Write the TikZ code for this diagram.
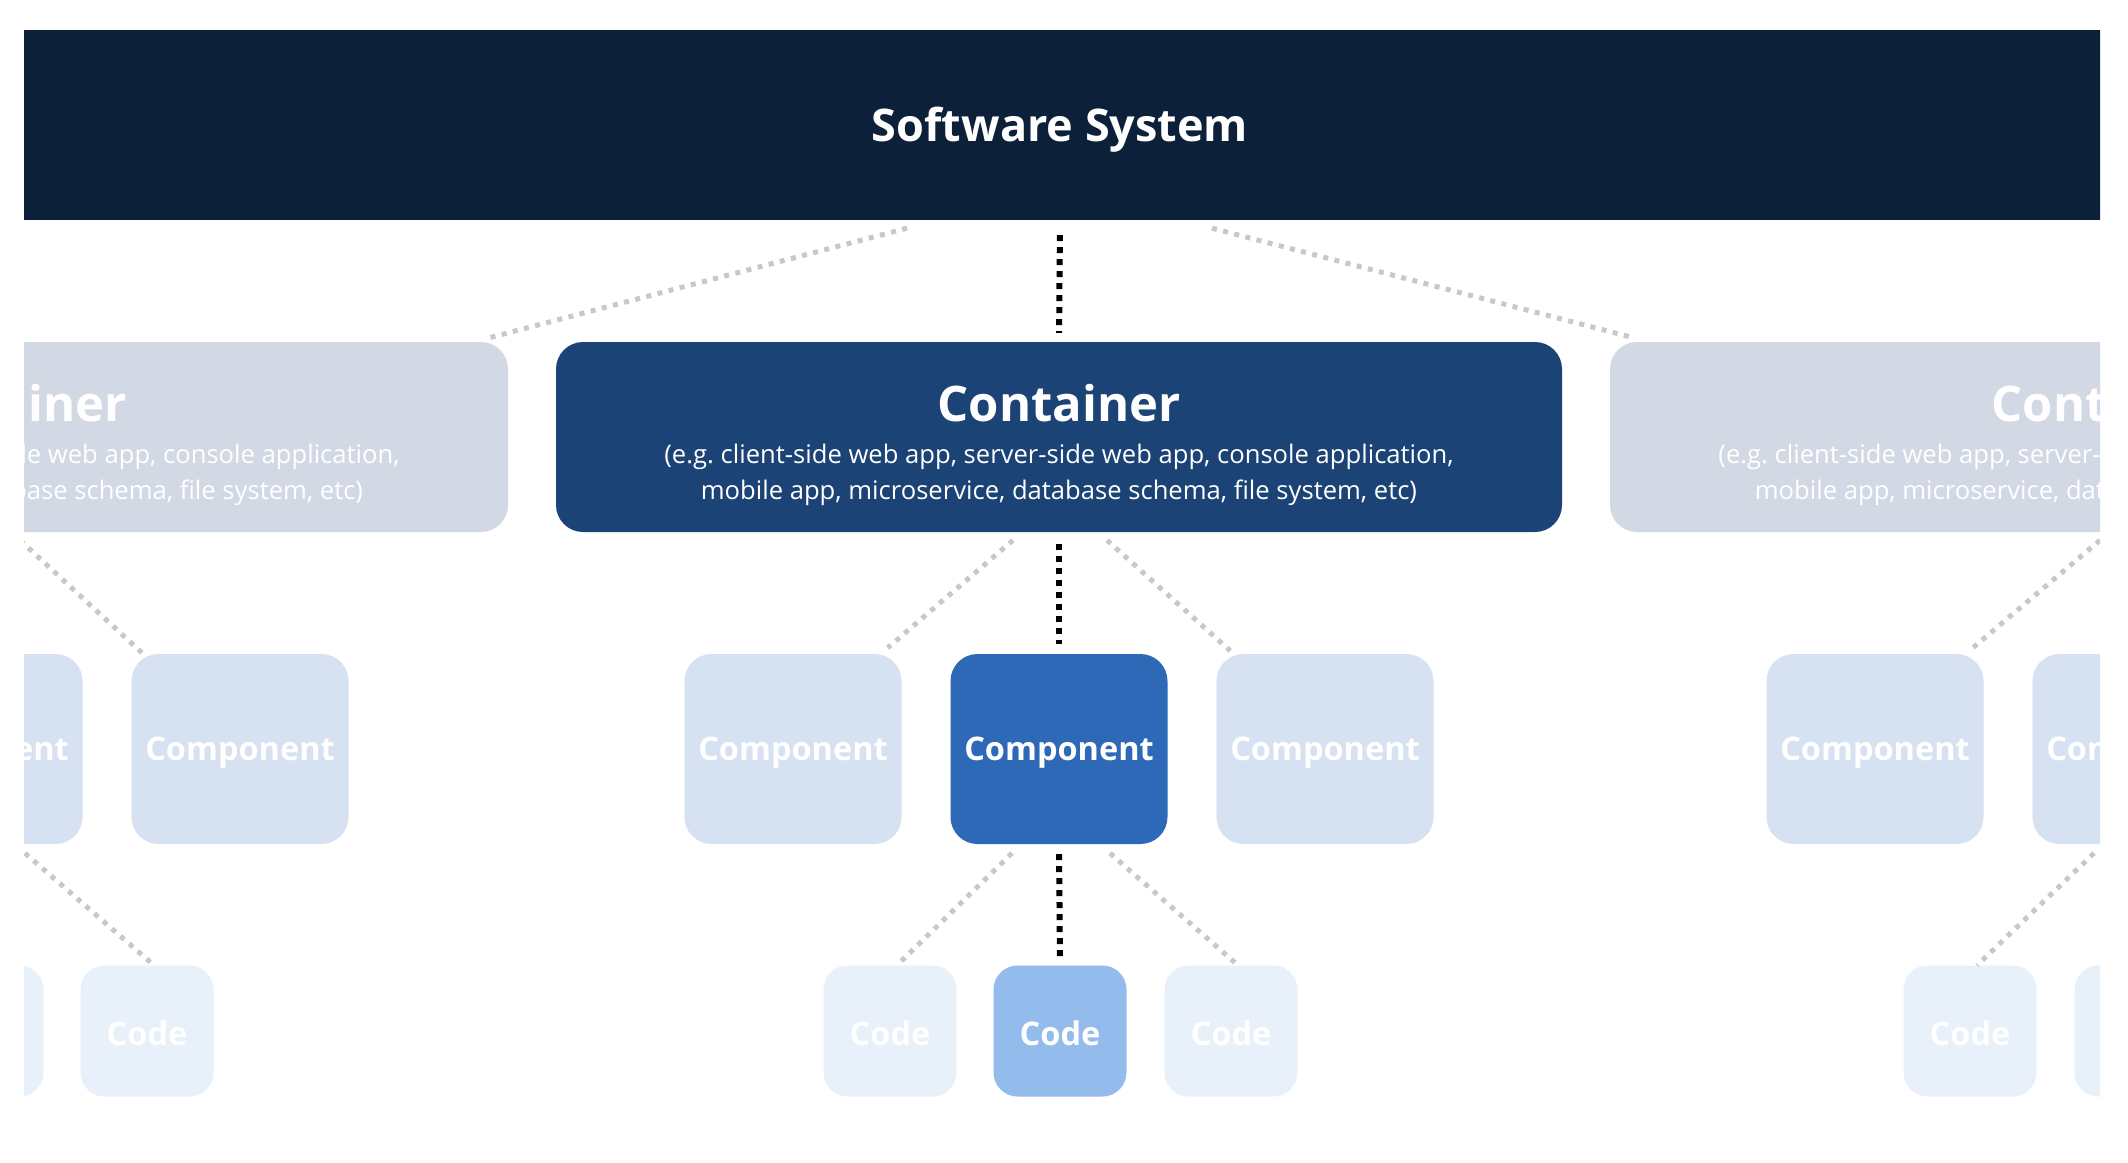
\documentclass[tikz,border=0pt]{standalone}
\usepackage{fontspec}
\setmainfont{Open Sans}
\frenchspacing
\definecolor{ssC}{RGB}{12,32,57}
\definecolor{ctC}{RGB}{28,67,118}
\definecolor{ctL}{RGB}{211,217,228}
\definecolor{cpC}{RGB}{45,105,182}
\definecolor{cpL}{RGB}{214,225,241}
\definecolor{cdC}{RGB}{147,187,235}
\definecolor{cdL}{RGB}{232,240,250}
\definecolor{dotG}{RGB}{200,200,200}
\tikzset{
 contbox/.style={rounded corners=27pt, minimum width=1006pt, minimum height=190pt, inner sep=0pt},
 compbox/.style={rounded corners=27pt, minimum width=217pt, minimum height=190pt, inner sep=0pt, text=white, text height=23pt, text depth=0pt, font=\fontsize{32.5}{39}\selectfont\bfseries},
 codebox/.style={rounded corners=24pt, minimum width=133pt, minimum height=131pt, inner sep=0pt, text=white, text height=28pt, text depth=0pt, font=\fontsize{32.5}{39}\selectfont\bfseries},
 titletext/.style={text=white, inner sep=0pt, font=\fontsize{49}{58}\selectfont\bfseries},
 desctext/.style={text=white, inner sep=0pt, align=center, font=\fontsize{25.6}{36}\selectfont\frenchspacing},
 greydots/.style={draw=dotG, line width=5pt, dash pattern=on 5pt off 6.5pt},
 blackdots/.style={draw=black, line width=6pt, dash pattern=on 6pt off 6pt},
}
\newcommand{\desctxt}{(e.g.\ client-side web app, server-side web app, console application,\\mobile app, microservice, database schema, file system, etc)}
\begin{document}
\begin{tikzpicture}[x=1pt,y=-1pt]
\useasboundingbox (0,0) rectangle (2128,1162);
\fill[white] (0,0) rectangle (2128,1162);
\begin{scope}
\clip (24,0) rectangle (2100,1162);
% software system
\node[fill=ssC, minimum width=2160pt, minimum height=190pt, inner sep=0pt, text=white, text height=32pt, text depth=0pt, font=\fontsize{45}{54}\selectfont\bfseries] (ss) at (1060,125) {Software System};
% containers
\node[contbox, fill=ctL] (cL) at (5,437) {};
\node[contbox, fill=ctC] (cC) at (1059,437) {};
\node[contbox, fill=ctL] (cR) at (2113,437) {};
\foreach \n in {cL,cC,cR}{
  \node[titletext] (\n t) at ([yshift=34pt]\n.center) {Container};
  \node[desctext] (\n d) at ([yshift=-38pt]\n.center) {\desctxt};
}
% components
\node[compbox, fill=cpL] (mL1) at (-26,749) {Component};
\node[compbox, fill=cpL] (mL2) at (240,749) {Component};
\node[compbox, fill=cpL] (mL) at (793,749) {Component};
\node[compbox, fill=cpC] (mC) at (1059,749) {Component};
\node[compbox, fill=cpL] (mR) at (1325,749) {Component};
\node[compbox, fill=cpL] (mR1) at (1875,749) {Component};
\node[compbox, fill=cpL] (mR2) at (2141,749) {Component};
% code
\node[codebox, fill=cdL] (kL1) at (-23,1031) {Code};
\node[codebox, fill=cdL] (kL2) at (147,1031) {Code};
\node[codebox, fill=cdL] (kL) at (890,1031) {Code};
\node[codebox, fill=cdC] (kC) at (1060,1031) {Code};
\node[codebox, fill=cdL] (kR) at (1231,1031) {Code};
\node[codebox, fill=cdL] (kR1) at (1970,1031) {Code};
\node[codebox, fill=cdL] (kR2) at (2141,1031) {Code};
% connectors: system -> containers
\draw[greydots] ([xshift=-153pt,yshift=-8pt]ss.south) -- ([xshift=-19pt,yshift=4pt]cL.north east);
\draw[greydots] ([xshift=152pt,yshift=-8pt]ss.south) -- ([xshift=24pt,yshift=4pt]cR.north west);
\draw[blackdots, shorten <=15pt, shorten >=9pt] (ss.south) -- (cC.north);
% containers -> components
\draw[greydots] ([xshift=-46pt,yshift=-8pt]cC.south) -- ([xshift=-14pt,yshift=6pt]mL.north east);
\draw[greydots] ([xshift=48pt,yshift=-8pt]cC.south) -- ([xshift=14pt,yshift=3pt]mR.north west);
\draw[blackdots, shorten <=12pt, shorten >=10pt] (cC.south) -- (mC.north);
\draw[greydots] ([xshift=15pt,yshift=-8pt]cL.south) -- ([xshift=15pt,yshift=-3pt]mL2.north west);
\draw[greydots] ([xshift=-13pt,yshift=-8pt]cR.south) -- ([xshift=-12pt,yshift=5pt]mR1.north east);
% components -> code
\draw[greydots] ([xshift=-47pt,yshift=-9pt]mC.south) -- ([xshift=7pt]kL.north);
\draw[greydots] ([xshift=51pt,yshift=-9pt]mC.south) -- ([xshift=7pt]kR.north);
\draw[blackdots, shorten <=10pt, shorten >=9pt] (mC.south) -- (kC.north);
\draw[greydots] ([xshift=51pt,yshift=-9pt]mL1.south) -- ([xshift=7pt]kL2.north);
\draw[greydots] ([xshift=-47pt,yshift=-9pt]mR2.south) -- ([xshift=7pt]kR1.north);
\end{scope}
\end{tikzpicture}
\end{document}
